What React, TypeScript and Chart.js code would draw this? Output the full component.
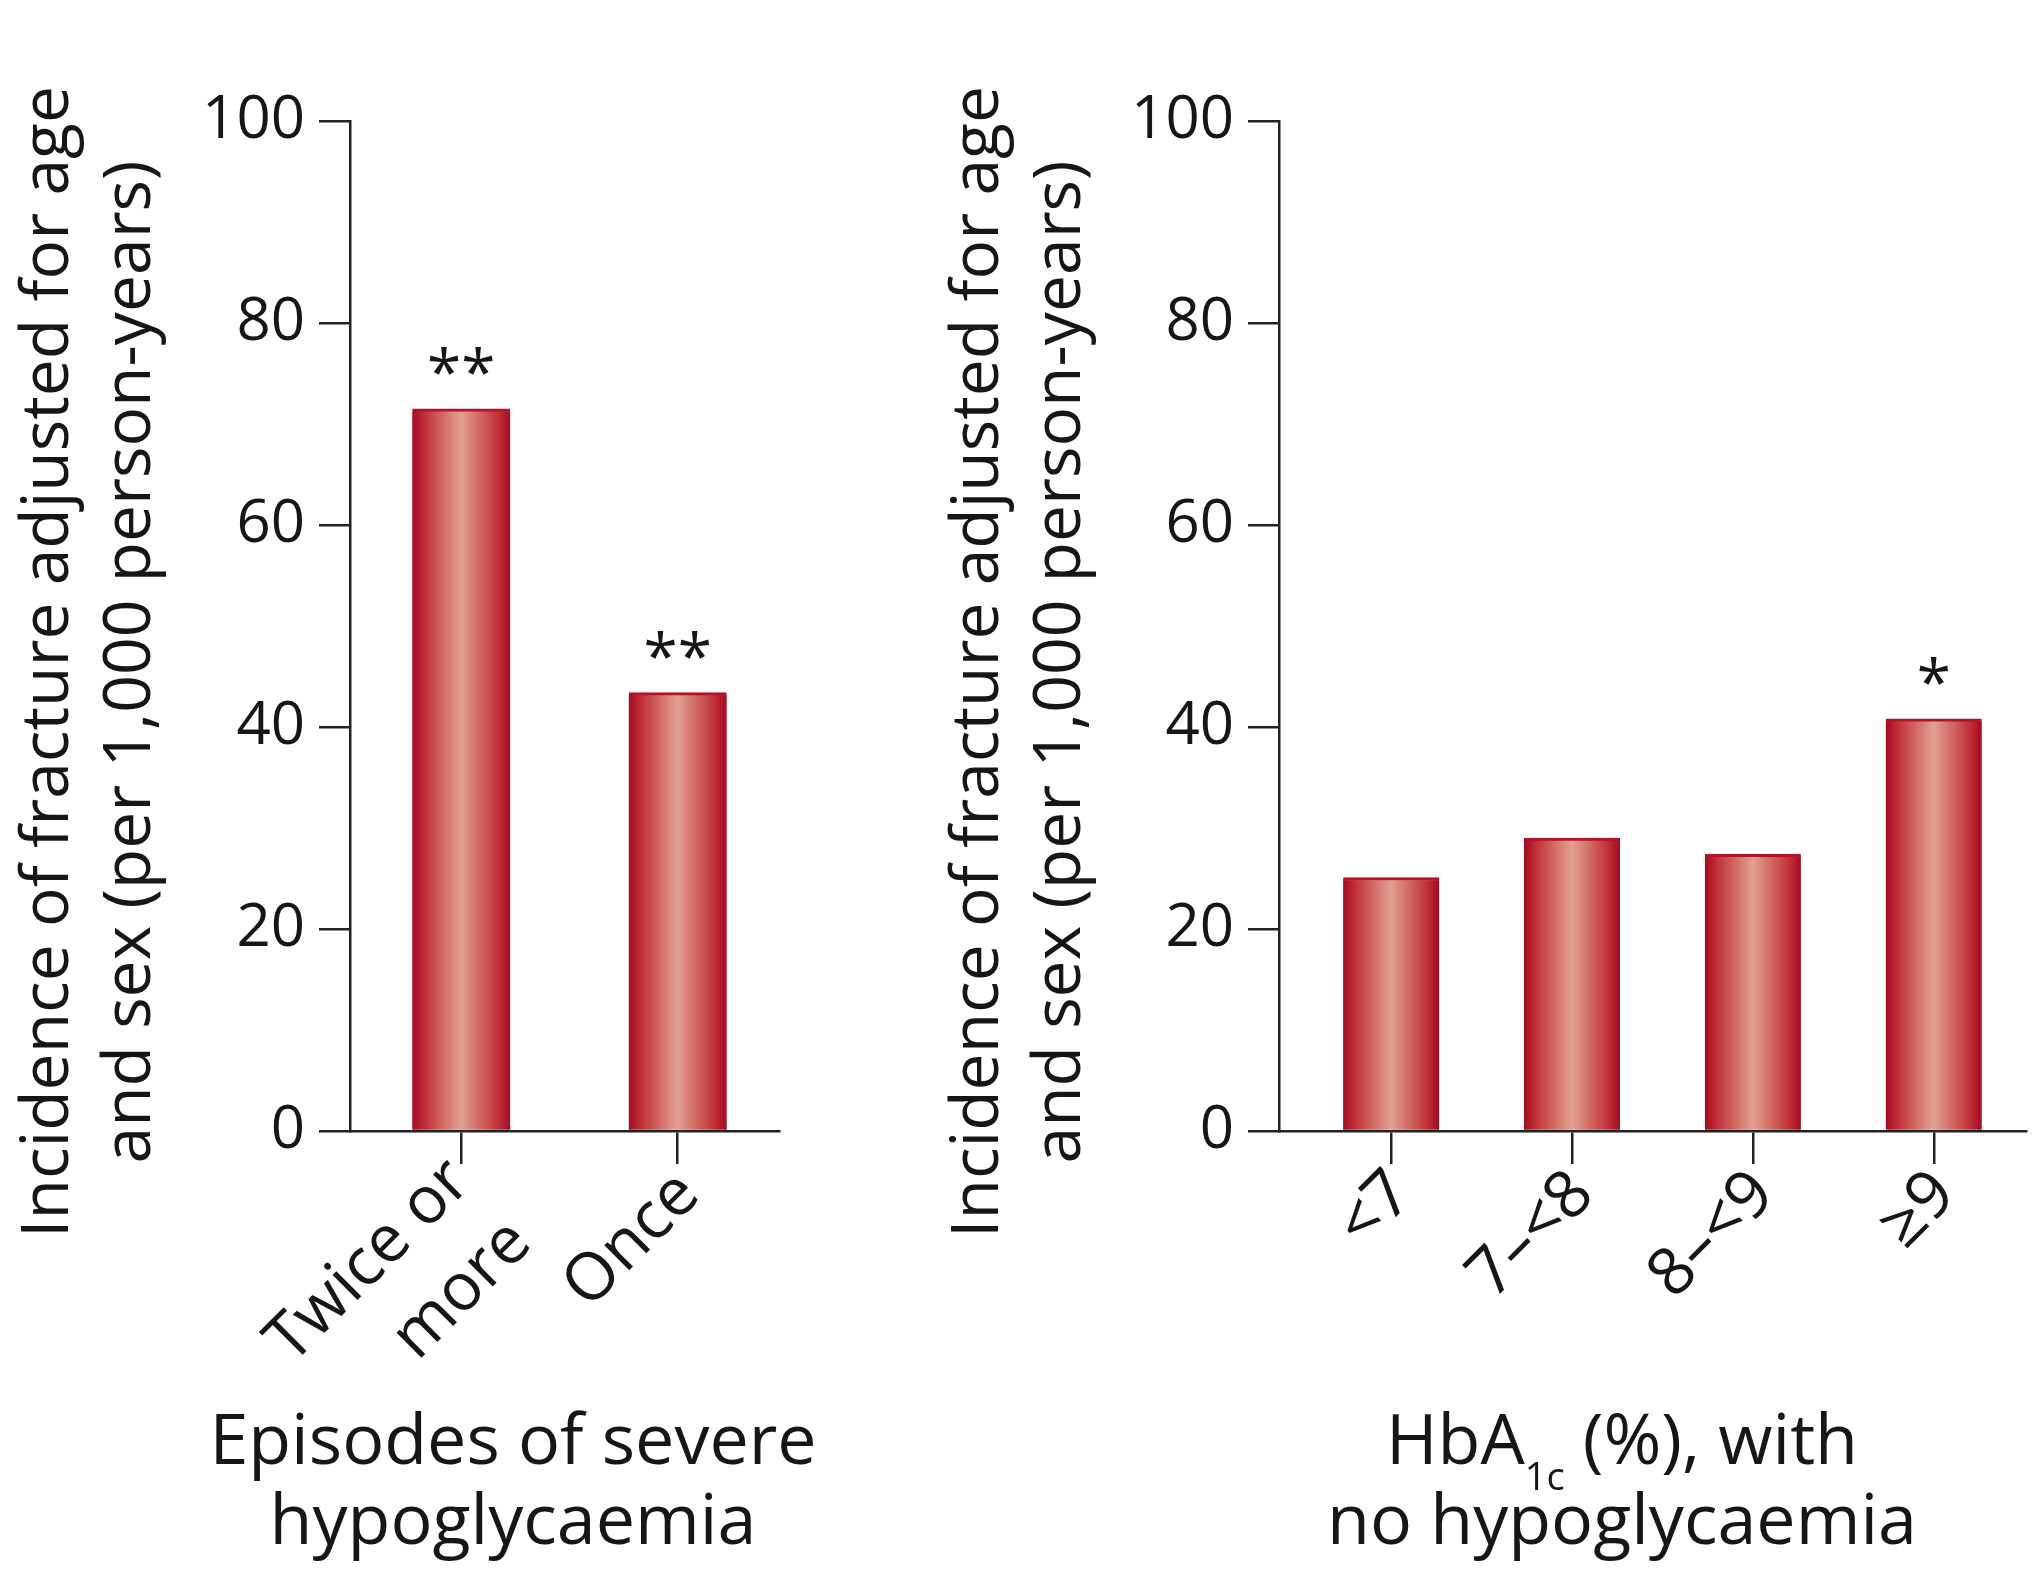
import React, { useEffect, useRef } from "react";
import { Chart, registerables } from "chart.js";

Chart.register(...registerables);

// ---- data ----
const yTickValues = [0, 20, 40, 60, 80, 100];
const episodeLabels: (string | string[])[] = [["Twice or", "more"], "Once"];
const episodeValues = [71.5, 43.4];
const episodeSig = ["**", "**"];

const hbaLabels: (string | string[])[] = ["<7", "7–<8", "8–<9", "≥9"];
const hbaValues = [25.1, 29.0, 27.4, 40.8];
const hbaSig = ["", "", "", "*"];

const yTitleLines = [
  "Incidence of fracture adjusted for age",
  "and sex (per 1,000 person-years)",
];
type Seg = { text: string; sub?: boolean };
const leftXTitle: Seg[][] = [[{ text: "Episodes of severe" }], [{ text: "hypoglycaemia" }]];
const rightXTitle: Seg[][] = [
  [{ text: "HbA" }, { text: "1c", sub: true }, { text: " (%), with" }],
  [{ text: "no hypoglycaemia" }],
];

// ---- style ----
const FONT = "'Open Sans', 'DejaVu Sans', sans-serif";
const TEXT = "#161616";
const AXIS = "#222222";
const X_TICK_LEN = 33;

const figureText = {
  id: "figureText",
  afterDatasetsDraw(chart: any, _a: any, opts: any) {
    const ctx = chart.ctx;
    const meta = chart.getDatasetMeta(0);
    ctx.save();
    ctx.fillStyle = TEXT;
    ctx.font = `62px ${FONT}`;
    ctx.textAlign = "center";
    ctx.textBaseline = "alphabetic";
    meta.data.forEach((el: any, i: number) => {
      const s = opts.sig[i];
      if (!s) return;
      const m = ctx.measureText(s);
      const base = el.y - 34 - m.actualBoundingBoxDescent;
      ctx.fillText(s, el.x, base);
    });
    ctx.restore();
  },
  afterDraw(chart: any, _a: any, opts: any) {
    const ctx = chart.ctx;
    const xs = chart.scales.x;
    ctx.save();
    ctx.fillStyle = TEXT;

    // rotated category labels under the ticks
    ctx.font = `66px ${FONT}`;
    ctx.textAlign = "right";
    ctx.textBaseline = "middle";
    opts.labels.forEach((lab: string | string[], i: number) => {
      const lines = Array.isArray(lab) ? lab : [lab];
      const px = xs.getPixelForTick(i);
      const py = xs.top + X_TICK_LEN;
      ctx.save();
      ctx.translate(px, py);
      ctx.rotate(-Math.PI / 4);
      const first = 22 - (lines.length - 1) * 18;
      lines.forEach((ln, k) => {
        ctx.fillText(ln, -6, first + k * 86);
      });
      ctx.restore();
    });

    // y-axis title (rotated)
    ctx.textBaseline = "alphabetic";
    ctx.font = `66px ${FONT}`;
    ctx.textAlign = "center";
    opts.yTitle.forEach((line: string, i: number) => {
      ctx.save();
      ctx.translate(opts.yTitleX[i], opts.yTitleCY);
      ctx.rotate(-Math.PI / 2);
      ctx.fillText(line, 0, 0);
      ctx.restore();
    });

    // x-axis title with optional subscript
    ctx.textAlign = "left";
    opts.xTitle.forEach((segs: Seg[], i: number) => {
      const widths = segs.map((s) => {
        ctx.font = s.sub ? `38px ${FONT}` : `70px ${FONT}`;
        return ctx.measureText(s.text).width;
      });
      const total = widths.reduce((a, b) => a + b, 0);
      let x = opts.xTitleCX - total / 2;
      segs.forEach((s, j) => {
        ctx.font = s.sub ? `38px ${FONT}` : `70px ${FONT}`;
        ctx.fillText(s.text, x, opts.xTitleY[i] + (s.sub ? 26 : 0));
        x += widths[j];
      });
    });
    ctx.restore();
  },
};

function barGradient(c: any, barW: number) {
  const fallback = "#c03038";
  if (c.type !== "data") return fallback;
  const chart = c.chart;
  const xs = chart.scales && chart.scales.x;
  if (!xs) return fallback;
  const cx = xs.getPixelForValue(c.dataIndex);
  if (!isFinite(cx)) return fallback;
  const g = chart.ctx.createLinearGradient(cx - barW / 2, 0, cx + barW / 2, 0);
  g.addColorStop(0, "#a30a22");
  g.addColorStop(0.12, "#c02f37");
  g.addColorStop(0.5, "#e2a090");
  g.addColorStop(0.88, "#c02f37");
  g.addColorStop(1, "#a30a22");
  return g;
}

type PanelParams = {
  labels: (string | string[])[];
  values: number[];
  sig: string[];
  xMin: number;
  xMax: number;
  barW: number;
  yAxisW: number;
  padRight: number;
  xTitle: Seg[][];
  xTitleCX: number;
};

function makeConfig(p: PanelParams): any {
  return {
    type: "bar",
    data: {
      datasets: [
        {
          data: p.values.map((v, i) => ({ x: i, y: v })),
          backgroundColor: (c: any) => barGradient(c, p.barW),
          borderColor: "#b3122b",
          borderWidth: { top: 3, left: 0, right: 0, bottom: 0 },
          borderSkipped: "bottom",
          barThickness: p.barW,
        },
      ],
    },
    options: {
      animation: false,
      responsive: false,
      devicePixelRatio: 1,
      layout: { padding: { left: 0, top: 121, right: p.padRight, bottom: 145 } },
      plugins: {
        legend: { display: false },
        tooltip: { enabled: false },
        figureText: {
          sig: p.sig,
          labels: p.labels,
          yTitle: yTitleLines,
          yTitleX: [68, 150],
          yTitleCY: 662,
          xTitle: p.xTitle,
          xTitleCX: p.xTitleCX,
          xTitleY: [1464, 1544],
        },
      },
      scales: {
        x: {
          type: "linear",
          min: p.xMin,
          max: p.xMax,
          offset: false,
          grid: {
            display: true,
            drawOnChartArea: false,
            drawTicks: true,
            tickLength: X_TICK_LEN,
            offset: false,
            color: AXIS,
            lineWidth: 2.5,
          },
          border: { display: true, color: AXIS, width: 2.5 },
          ticks: { display: false, autoSkip: false },
          afterBuildTicks: (s: any) => {
            s.ticks = p.labels.map((_l, i) => ({ value: i }));
          },
          afterFit: (s: any) => {
            s.height = 300;
          },
        },
        y: {
          min: yTickValues[0],
          max: yTickValues[yTickValues.length - 1],
          ticks: {
            stepSize: yTickValues[1] - yTickValues[0],
            padding: 14,
            color: TEXT,
            font: { size: 60, family: FONT },
          },
          grid: {
            drawOnChartArea: false,
            tickLength: 31,
            color: AXIS,
            lineWidth: 2.5,
          },
          border: { display: true, color: AXIS, width: 2.5 },
          afterFit: (s: any) => {
            s.width = p.yAxisW;
          },
        },
      },
    },
    plugins: [figureText],
  };
}

function Panel({ params, left, width }: { params: PanelParams; left: number; width: number }) {
  const ref = useRef<HTMLCanvasElement>(null);
  useEffect(() => {
    const chart = new Chart(ref.current!, makeConfig(params));
    return () => chart.destroy();
  }, []);
  return (
    <canvas
      ref={ref}
      width={width}
      height={1576}
      style={{ position: "absolute", left, top: 0, width, height: 1576 }}
    />
  );
}

export default function App() {
  const leftParams: PanelParams = {
    labels: episodeLabels,
    values: episodeValues,
    sig: episodeSig,
    xMin: -0.514,
    xMax: 1.468,
    barW: 98,
    yAxisW: 350,
    padRight: 151,
    xTitle: leftXTitle,
    xTitleCX: 513,
  };
  const rightParams: PanelParams = {
    labels: hbaLabels,
    values: hbaValues,
    sig: hbaSig,
    xMin: -0.62,
    xMax: 3.51,
    barW: 96,
    yAxisW: 349,
    padRight: 14,
    xTitle: rightXTitle,
    xTitleCX: 692,
  };
  return (
    <div
      style={{
        position: "absolute",
        left: 0,
        top: 0,
        width: 2040,
        height: 1576,
        background: "#ffffff",
        overflow: "hidden",
      }}
    >
      <Panel params={leftParams} left={0} width={930} />
      <Panel params={rightParams} left={930} width={1110} />
    </div>
  );
}
